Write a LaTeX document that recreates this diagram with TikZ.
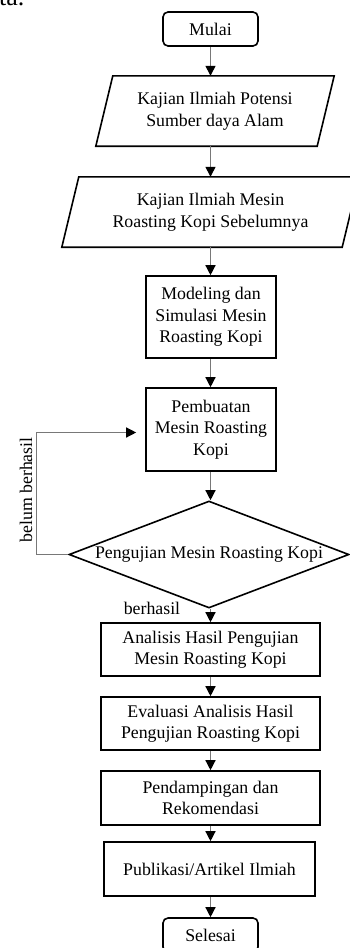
\documentclass[tikz,border=0pt]{standalone}
\usepackage{fontspec}
\setmainfont{Liberation Serif}
\usetikzlibrary{arrows.meta,shapes.geometric,calc}
\begin{document}
\begin{tikzpicture}[x=1pt,y=-1pt,
  every node/.style={font=\fontsize{17.8}{21.5}\selectfont, align=center, inner sep=0pt},
  stepbox/.style={draw=black, line width=1.6pt, rectangle},
  termbox/.style={stepbox, rounded corners=5pt},
  conn/.style={draw={rgb,255:red,120;green,120;blue,120}, line width=1.3pt,
    -{Triangle[length=10pt,width=10pt,color=black,fill=black]}},
  lbl/.style={font=\fontsize{17.8}{20}\selectfont}
]
\useasboundingbox (0,0) rectangle (349,948);
\node[anchor=base west, font=\fontsize{26}{30}\selectfont] (ta) at (-1,5) {ta.};

\node[termbox, minimum width=95pt, minimum height=34pt] (mulai) at (210.5,29) {Mulai};

% parallelogram 1
\node[minimum width=221pt, minimum height=70pt] (p1) at (215,111) {Kajian Ilmiah Potensi\\Sumber daya Alam};
\draw[black, line width=1.6pt] ([xshift=8.5pt]p1.north west) -- ([xshift=8.5pt]p1.north east)
  -- ([xshift=-8.5pt]p1.south east) -- ([xshift=-8.5pt]p1.south west) -- cycle;

% parallelogram 2
\node[minimum width=280pt, minimum height=70pt] (p2) at (210.5,212) {Kajian Ilmiah Mesin\\Roasting Kopi Sebelumnya};
\draw[black, line width=1.6pt] ([xshift=8.5pt]p2.north west) -- ([xshift=8.5pt]p2.north east)
  -- ([xshift=-8.5pt]p2.south east) -- ([xshift=-8.5pt]p2.south west) -- cycle;

\node[stepbox, minimum width=130pt, minimum height=82pt] (model) at (211,317) {Modeling dan\\Simulasi Mesin\\Roasting Kopi};
\node[stepbox, minimum width=130pt, minimum height=83pt] (pemb) at (211,429.5) {Pembuatan\\Mesin Roasting\\Kopi};

\node[diamond, draw=black, line width=1.6pt, aspect=2.65, minimum width=280pt, minimum height=107pt] (uji) at (209,554.5) {Pengujian Mesin Roasting Kopi};

\node[stepbox, minimum width=219pt, minimum height=53pt] (ana) at (210.5,649.5) {Analisis Hasil Pengujian\\Mesin Roasting Kopi};
\node[stepbox, minimum width=219pt, minimum height=53pt] (eva) at (210.5,723.5) {Evaluasi Analisis Hasil\\Pengujian Roasting Kopi};
\node[stepbox, minimum width=219pt, minimum height=54pt] (pend) at (210.5,798) {Pendampingan dan\\Rekomendasi};
\node[stepbox, minimum width=211pt, minimum height=54pt] (pub) at (209.5,869) {Publikasi/Artikel Ilmiah};
\node[termbox, minimum width=95pt, minimum height=34pt] (sel) at (210.5,935) {Selesai};

\draw[conn] (mulai.south) -- (mulai.south |- p1.north);
\draw[conn] (p1.south -| mulai.south) -- (mulai.south |- p2.north);
\draw[conn] (p2.south -| mulai.south) -- (mulai.south |- model.north);
\draw[conn] (model.south -| mulai.south) -- (mulai.south |- pemb.north);
\draw[conn] (pemb.south -| mulai.south) -- (mulai.south |- uji.north);
\draw[conn] (uji.south -| mulai.south) -- (mulai.south |- ana.north);
\draw[conn] (ana.south -| mulai.south) -- (mulai.south |- eva.north);
\draw[conn] (eva.south -| mulai.south) -- (mulai.south |- pend.north);
\draw[conn] (pend.south -| mulai.south) -- (mulai.south |- pub.north);
\draw[conn] (pub.south -| mulai.south) -- (mulai.south |- sel.north);

\draw[conn] (uji.west) -- ++(-32pt,0) |- ([xshift=-9pt,yshift=-3pt]pemb.west);
\node[lbl, rotate=90] (belum) at (26,490) {belum berhasil};
\node[lbl] (berhasil) at (152,608) {berhasil};
\end{tikzpicture}
\end{document}
